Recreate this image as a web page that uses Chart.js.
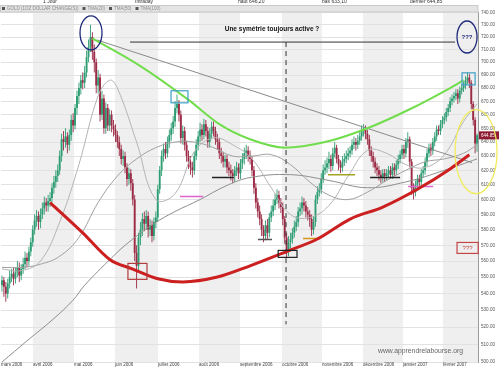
<!DOCTYPE html>
<html>
<head>
<meta charset="utf-8">
<script src="https://cdn.jsdelivr.net/npm/chart.js@4.4.1/dist/chart.umd.min.js"></script>
<style>
  html, body { margin: 0; padding: 0; background: #fff; }
  canvas { display: block; }
</style>
</head>
<body>
<canvas id="chart" width="499" height="368"></canvas>
<script>
// daily candles, mid-March 2006 -> early March 2007 (one entry per session)
const opens = [
  545,548,544,540,546, 550,552,549,553,556, 551,555,558,562,560, 566,572,580,586,589,
  585,590,594,598,596, 599,601,608,612,616, 620,630,642,640,644, 638,645,656,652,665,
  674,680,686,684,692, 704,712,720,708,700, 682,688,660,672,650, 665,652,660,652,649,
  645,640,635,628,630, 622,614,618,611,600, 565,557,575,580,587, 584,589,580,583,576,
  585,588,607,620,630, 635,632,640,645,650, 655,665,668,660,643, 648,638,630,626,622,
  620,630,638,644,649, 645,653,648,640,646, 651,648,642,640,632, 630,626,628,622,620,
  618,616,620,622,618, 625,628,632,634,630, 628,620,608,598,592, 587,580,576,583,578,
  588,592,596,600,603, 598,595,587,575,567, 572,574,578,582,585, 592,594,598,596,592,
  590,587,580,585,600, 605,607,614,620,622, 625,628,623,632,636, 628,624,622,626,628,
  630,632,634,638,640, 638,641,644,648,649, 646,642,634,630,626, 622,620,617,615,618,
  616,618,620,617,622, 620,624,628,631,635, 632,640,642,626,608, 605,610,614,612,618,
  620,626,632,636,634, 640,644,649,648,653, 656,658,662,665,670, 672,674,676,672,678,
  680,682,686,688,684, 668,656,639
];
const highs = [
  551,550,547,549,554, 555,556,556,560,559, 558,562,566,565,569, 575,583,590,593,592,
  594,598,602,601,603, 605,611,616,620,624, 634,646,648,650,647, 649,660,661,668,678,
  684,690,692,697,709, 718,730,724,714,703, 694,691,678,675,669, 668,664,663,656,653,
  648,644,638,634,633, 625,622,621,614,603, 570,578,585,591,592, 593,592,587,586,588,
  592,610,623,634,639, 640,644,649,654,659, 670,675,671,663,652, 651,641,634,630,626,
  633,642,648,654,653, 657,656,651,650,655, 655,651,646,643,636, 633,631,631,626,624,
  621,623,626,625,628, 632,636,638,637,634, 630,623,611,601,596, 590,583,586,587,591,
  596,600,604,607,606, 601,598,589,578,576, 578,581,586,589,595, 598,602,601,599,595,
  593,590,589,603,609, 611,618,624,627,629, 633,631,636,640,638, 631,627,630,632,634,
  636,637,642,644,643, 645,648,652,653,652, 649,645,637,633,629, 625,623,620,621,621,
  621,623,623,625,625, 627,631,634,638,638, 643,647,644,628,611, 613,617,617,621,623,
  629,635,639,639,643, 647,652,652,656,659, 661,665,668,673,675, 677,679,679,681,683,
  685,689,692,691,686, 670,658,646.2
];
const lows = [
  541,538,535,537,543, 547,545,546,550,547, 548,552,555,556,557, 563,569,577,582,580,
  581,587,590,592,592, 595,598,604,608,612, 617,626,634,636,632, 634,641,647,649,660,
  668,675,679,680,688, 700,708,702,692,676, 676,655,656,646,646, 648,648,647,644,640,
  636,630,624,623,618, 609,610,606,596,560, 543,553,570,576,579, 580,575,576,572,573,
  581,585,604,616,626, 628,629,636,641,646, 651,661,655,639,638, 634,626,621,617,615,
  617,627,634,640,641, 642,644,636,636,642, 644,638,635,628,625, 622,622,618,616,613,
  611,612,616,614,614, 621,624,628,626,624, 616,604,594,588,583, 576,572,573,574,575,
  585,589,593,597,594, 591,583,571,562,563, 568,571,575,579,582, 589,590,592,588,586,
  582,576,577,582,597, 602,604,611,617,618, 621,619,620,629,625, 620,618,619,623,625,
  627,629,631,635,634, 635,638,641,644,642, 638,630,626,622,618, 616,613,611,612,612,
  613,615,614,614,616, 617,621,625,628,628, 629,636,622,603,600, 602,606,608,609,615,
  617,623,629,630,631, 637,641,645,645,650, 653,655,659,662,667, 669,671,668,669,675,
  677,679,683,680,664, 652,632,633.1
];
const closes = [
  548,544,540,546,550, 552,549,553,556,551, 555,558,562,560,566, 572,580,586,589,585,
  590,594,598,596,599, 601,608,612,616,620, 630,642,640,644,638, 645,656,652,665,674,
  680,686,684,692,704, 712,720,708,700,682, 688,660,672,650,665, 652,660,652,649,645,
  640,635,628,630,622, 614,618,611,600,565, 557,575,580,587,584, 589,580,583,576,585,
  588,607,620,630,635, 632,640,645,650,655, 665,668,660,643,648, 638,630,626,622,620,
  630,638,644,649,645, 653,648,640,646,651, 648,642,640,632,630, 626,628,622,620,618,
  616,620,622,618,625, 628,632,634,630,628, 620,608,598,592,587, 580,576,583,578,588,
  592,596,600,603,598, 595,587,575,567,572, 574,578,582,585,592, 594,598,596,592,590,
  587,580,585,600,605, 607,614,620,622,625, 628,623,632,636,628, 624,622,626,628,630,
  632,634,638,640,638, 641,644,648,649,646, 642,634,630,626,622, 620,617,615,618,616,
  618,620,617,622,620, 624,628,631,635,632, 640,642,626,608,605, 610,614,612,618,620,
  626,632,636,634,640, 644,649,648,653,656, 658,662,665,670,672, 674,676,672,678,680,
  682,686,688,684,668, 656,639,644.85
];

// month boundaries (session index) and their labels
const monthTicks = [-0.5, 16.1, 37.5, 58.8, 81.1, 102.5, 123.8, 145.6, 166.4, 187.7, 208.5, 229.3];
const monthLabels = ['mars 2006', 'avril 2006', 'mai 2006', 'juin 2006', 'juillet 2006', 'août 2006',
  'septembre 2006', 'octobre 2006', 'novembre 2006', 'décembre 2006', 'janvier 2007', 'février 2007'];
const yTicks = [500, 510, 520, 530, 540, 550, 560, 570, 580, 590, 600, 610, 620, 630, 640, 650,
  660, 670, 680, 690, 700, 710, 720, 730, 740];

// moving averages
const ma20Idx = [0, 10, 20, 30, 40, 50, 56, 60, 70, 80, 90, 100, 110, 120, 130, 140, 150, 160, 170, 180, 190, 200, 210, 220, 230, 240, 247];
const ma20Val = [555, 554, 560, 585, 624, 674, 686, 680, 640, 600, 604, 633, 643, 638, 628, 608, 590, 588, 596, 616, 634, 632, 624, 622, 631, 655, 668];
const ma50Idx = [0, 10, 20, 30, 40, 50, 60, 70, 80, 90, 100, 110, 120, 130, 140, 150, 160, 170, 180, 190, 200, 210, 220, 230, 240, 247];
const ma50Val = [556, 556, 558, 563, 575, 598, 616, 628, 636, 640, 640, 636, 630, 630, 631, 624, 612, 603, 600, 605, 613, 620, 626, 628, 632, 638];
const ma100Idx = [0, 13, 27, 37, 43, 57, 66, 79, 90, 103, 116, 129, 150, 170, 190, 210, 230, 247];
const ma100Val = [500, 512, 525, 536, 545, 562, 572, 584, 592, 600, 609, 615, 617, 613, 608, 612, 620, 628];

// hand-drawn analysis
const greenIdx = [47, 72, 97, 113, 129, 147, 168, 190, 212, 233, 240];
const greenVal = [719, 697, 671, 653, 642, 636, 640, 650, 664, 680, 686];
const redIdx = [25, 42, 56, 68, 81, 94, 112, 129, 148, 164, 181, 198, 216, 233, 243];
const redVal = [598, 578, 561, 555, 549, 547, 550, 557, 566, 574, 587, 595, 607, 621, 631];
const trendIdx = [49.4, 244.4];
const trendVal = [717.7, 625.4];
const topLineIdx = [66.6, 235.6];
const topLineVal = [716, 716];
const dashIdx = [147.7, 147.7];
const dashVal = [716, 521.6];
const segFrom = [92.6, 109.2, 133.1, 156.5, 169.5, 191.4, 211.2];
const segTo = [104.6, 120.6, 140.4, 165.4, 183.6, 207.0, 224.2];
const segVal = [602, 615, 573.7, 574.4, 617, 615, 608.8];
const segColor = ['#e063c9', '#222222', '#555555', '#d8961f', '#a3a324', '#222222', '#e063c9'];

const boxFrom = [87.9, 239.2, 65.5, 143.6, 236.6];
const boxTo = [96.7, 246.0, 75.4, 153.4, 247.6];
const boxLow = [668.8, 682.4, 548.6, 562.3, 564.8];
const boxHigh = [677.9, 691.7, 558.5, 566.7, 571.8];
const boxColor = ['#3c9fc6', '#3c9fc6', '#b23a3a', '#222222', '#c54444'];

const ringIdx = [46.3, 241.8, 246.5];
const ringVal = [723.4, 720.1, 633.1];
const ringRx = [11, 10, 21];
const ringRy = [17, 16, 42];
const ringColor = ['#1f2a7a', '#1f2a7a', '#f1ec5c'];

const headerText = ['1 Jour', 'Intraday', 'haut 646,20', 'bas 633,10', 'dernier 644,85'];
const headerX = [43, 135, 238, 322, 410];
const legendText = ['GOLD (1OZ DOLLAR CHANGE(S))', 'TMA(20)', 'TMA(50)', 'TMA(100)'];

const upColor = '#2f9d74';
const downColor = '#9c2b45';
const candleColors = closes.map((c, i) => (c >= opens[i] ? upColor : downColor));

const FONT = "'Liberation Sans', Arial, sans-serif";
Chart.defaults.font.family = FONT;

function pts(xs, ys) {
  return xs.map((x, i) => ({ x, y: ys[i] }));
}
function line(data, color, width, extra) {
  return Object.assign({
    type: 'line', data, borderColor: color, borderWidth: width,
    pointRadius: 0, pointHitRadius: 0, fill: false, tension: 0, order: 0
  }, extra || {});
}

const datasets = [
  line(pts(greenIdx, greenVal), '#72dd4c', 2, { cubicInterpolationMode: 'monotone' }),
  line(pts(redIdx, redVal), '#cc1f1f', 3, { cubicInterpolationMode: 'monotone' }),
  line(pts(trendIdx, trendVal), '#8a8a8a', 1),
  line(pts(topLineIdx, topLineVal), '#333333', 1),
  line(pts(dashIdx, dashVal), '#333333', 1, { borderDash: [5, 4] })
];
segFrom.forEach((f, i) => {
  datasets.push(line(pts([f, segTo[i]], [segVal[i], segVal[i]]), segColor[i], 1.5));
});
datasets.push(
  line(pts(ma20Idx, ma20Val), '#b4b4b4', 1, { tension: 0.4, order: 1 }),
  line(pts(ma50Idx, ma50Val), '#a0a0a0', 1, { tension: 0.4, order: 1 }),
  line(pts(ma100Idx, ma100Val), '#8e8e8e', 1, { tension: 0.4, order: 1 }),
  {
    type: 'bar',
    data: closes.map((c, i) => ({ x: i, y: [opens[i], c] })),
    backgroundColor: candleColors, borderWidth: 0, barThickness: 1.9,
    minBarLength: 1, grouped: false, inflateAmount: 0, order: 2
  },
  {
    type: 'bar',
    data: closes.map((c, i) => ({ x: i, y: [lows[i], highs[i]] })),
    backgroundColor: candleColors, borderWidth: 0, barThickness: 0.9,
    grouped: false, inflateAmount: 0, order: 3
  }
);

const bandsPlugin = {
  id: 'bands',
  beforeDraw(chart) {
    const { ctx, chartArea: a, scales: { x } } = chart;
    ctx.save();
    ctx.fillStyle = '#fff';
    ctx.fillRect(0, 0, chart.width, chart.height);
    ctx.fillStyle = '#efefef';
    for (let k = 1; k < monthTicks.length; k += 2) {
      const x0 = x.getPixelForValue(monthTicks[k]);
      const x1 = k + 1 < monthTicks.length ? x.getPixelForValue(monthTicks[k + 1]) : a.right;
      ctx.fillRect(x0, a.top, x1 - x0, a.bottom - a.top);
    }
    ctx.restore();
  }
};

const overlayPlugin = {
  id: 'overlay',
  afterDraw(chart) {
    const { ctx, chartArea: a, scales: { x, y } } = chart;
    const px = v => x.getPixelForValue(v);
    const py = v => y.getPixelForValue(v);
    ctx.save();

    // boxes
    ctx.lineWidth = 1.2;
    boxFrom.forEach((f, i) => {
      const x0 = px(f), x1 = px(boxTo[i]), y0 = py(boxHigh[i]), y1 = py(boxLow[i]);
      ctx.strokeStyle = boxColor[i];
      ctx.strokeRect(x0, y0, x1 - x0, y1 - y0);
    });

    // texts on the chart
    ctx.textAlign = 'center';
    ctx.textBaseline = 'middle';
    ctx.fillStyle = '#111';
    ctx.font = 'bold 6.5px ' + FONT;
    ctx.fillText('Une symétrie toujours active ?', px(140.4), py(726.6));
    ctx.fillStyle = '#1f2a7a';
    ctx.font = 'bold 6px ' + FONT;
    ctx.fillText('???', px(ringIdx[1]), py(ringVal[1]));
    ctx.fillStyle = '#c54444';
    ctx.font = '6px ' + FONT;
    ctx.fillText('???', px(242.1), py(568.3));
    ctx.textAlign = 'left';
    ctx.fillStyle = '#666';
    ctx.font = '6.8px ' + FONT;
    ctx.fillText('www.apprendrelabourse.org', px(195.5), py(505.9));

    // header line
    ctx.fillStyle = '#333';
    ctx.font = '5px ' + FONT;
    headerText.forEach((t, i) => ctx.fillText(t, headerX[i], 2));

    // legend strip
    ctx.fillStyle = '#e4e4e4';
    ctx.fillRect(0, 5, a.right, 7);
    ctx.strokeStyle = '#c9c9c9';
    ctx.lineWidth = 1;
    ctx.strokeRect(0.5, 5.5, a.right - 0.5, 6.5);
    ctx.font = '4.5px ' + FONT;
    let lx = 2;
    legendText.forEach(t => {
      ctx.fillStyle = '#555';
      ctx.fillRect(lx, 7, 3, 3);
      ctx.fillStyle = '#8a8a8a';
      ctx.fillText(t, lx + 5, 8.7);
      lx += 5 + ctx.measureText(t).width + 4;
    });

    // last price tag
    const last = closes[closes.length - 1];
    const ty = py(last);
    ctx.fillStyle = '#8e1b31';
    ctx.fillRect(a.right + 1, ty - 4, chart.width - a.right - 1, 8);
    ctx.fillStyle = '#fff';
    ctx.font = '4.5px ' + FONT;
    ctx.fillText(last.toFixed(2), a.right + 3, ty + 0.3);

    // ellipses
    ctx.lineWidth = 1.3;
    ringIdx.forEach((v, i) => {
      ctx.strokeStyle = ringColor[i];
      ctx.beginPath();
      ctx.ellipse(px(v), py(ringVal[i]), ringRx[i], ringRy[i], 0, 0, Math.PI * 2);
      ctx.stroke();
    });
    ctx.restore();
  }
};

new Chart(document.getElementById('chart'), {
  type: 'bar',
  data: { datasets },
  options: {
    responsive: false,
    animation: false,
    devicePixelRatio: 1,
    layout: { padding: { left: 1, top: 12.7, right: 0, bottom: 0 } },
    plugins: { legend: { display: false }, tooltip: { enabled: false } },
    scales: {
      x: {
        type: 'linear', min: -0.5, max: 247.5, offset: false,
        grid: { display: false, drawTicks: false },
        border: { display: false },
        afterBuildTicks: s => { s.ticks = monthTicks.map(v => ({ value: v })); },
        afterFit: s => { s.height = 6; },
        ticks: {
          autoSkip: false, maxRotation: 0, minRotation: 0, align: 'start', padding: 0,
          font: { size: 4.5 }, color: '#444',
          callback: (v, i) => monthLabels[i]
        }
      },
      y: {
        type: 'logarithmic', position: 'right', min: 500, max: 740,
        afterBuildTicks: s => { s.ticks = yTicks.map(v => ({ value: v })); },
        afterFit: s => { s.width = 21; },
        grid: { color: '#e2e2e2', drawTicks: false },
        border: { color: '#9a9a9a' },
        ticks: {
          padding: 3, font: { size: 4.6 }, color: '#555',
          callback: v => Number(v).toFixed(2)
        }
      }
    }
  },
  plugins: [bandsPlugin, overlayPlugin]
});
</script>
</body>
</html>
